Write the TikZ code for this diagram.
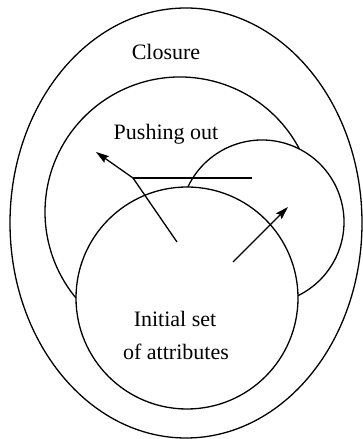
\documentclass[tikz,border=0pt]{standalone}
\usepackage{fontspec}
\setmainfont{Liberation Serif}
\newfontfamily\timesx{Liberation Serif}
\usetikzlibrary{arrows.meta,calc}
\begin{document}
\begin{tikzpicture}[x=1pt,y=1pt,
  line width=1.3pt,
  outline/.style={draw=black,line width=1.3pt},
  arrowline/.style={draw=black,line width=1.3pt,line join=round,-{Stealth[length=13pt,width=8pt,inset=2pt]}},
  label/.style={inner sep=0pt,font=\timesx\fontsize{22}{33}\selectfont,align=center}]
\useasboundingbox (0,0) rectangle (363,439);
% centres
\coordinate (co) at (186,216);
\coordinate (ci) at (187,141);
\coordinate (cm) at (180,227);
\coordinate (cs) at (262,217);
% outer ellipse (closure)
\draw[outline] (co) ellipse [x radius=176pt, y radius=215pt];
% initial set circle
\draw[outline] (ci) circle [radius=111pt];
% pushing-out circle (visible part)
\draw[outline] ($(cm)+(27.8:135pt)$) arc [start angle=27.8, end angle=219.6, radius=135pt];
% small circle (visible part)
\draw[outline] ($(cs)+(154.7:82pt)$) arc [start angle=154.7, end angle=-64.0, radius=82pt];
% horizontal line and arrows
\coordinate (k1) at (133,261);
\coordinate (h2) at (252,261);
\coordinate (a1s) at (177,197);
\coordinate (a1t) at (96,287);
\coordinate (a2s) at (233,177);
\coordinate (a2t) at (288,232);
\draw[outline] (k1) -- (h2);
\draw[arrowline] (a1s) -- (k1) -- (a1t);
\draw[arrowline] (a2s) -- (a2t);
% labels
\node[label,anchor=base] (closure) at (166,379) {Closure};
\node[label,anchor=base] (pushing) at (166,299) {Pushing out};
\node[label,anchor=base] (initial) at (175,112) {Initial set};
\node[label,anchor=base] (attrs) at (176,79) {of attributes};
\end{tikzpicture}
\end{document}
